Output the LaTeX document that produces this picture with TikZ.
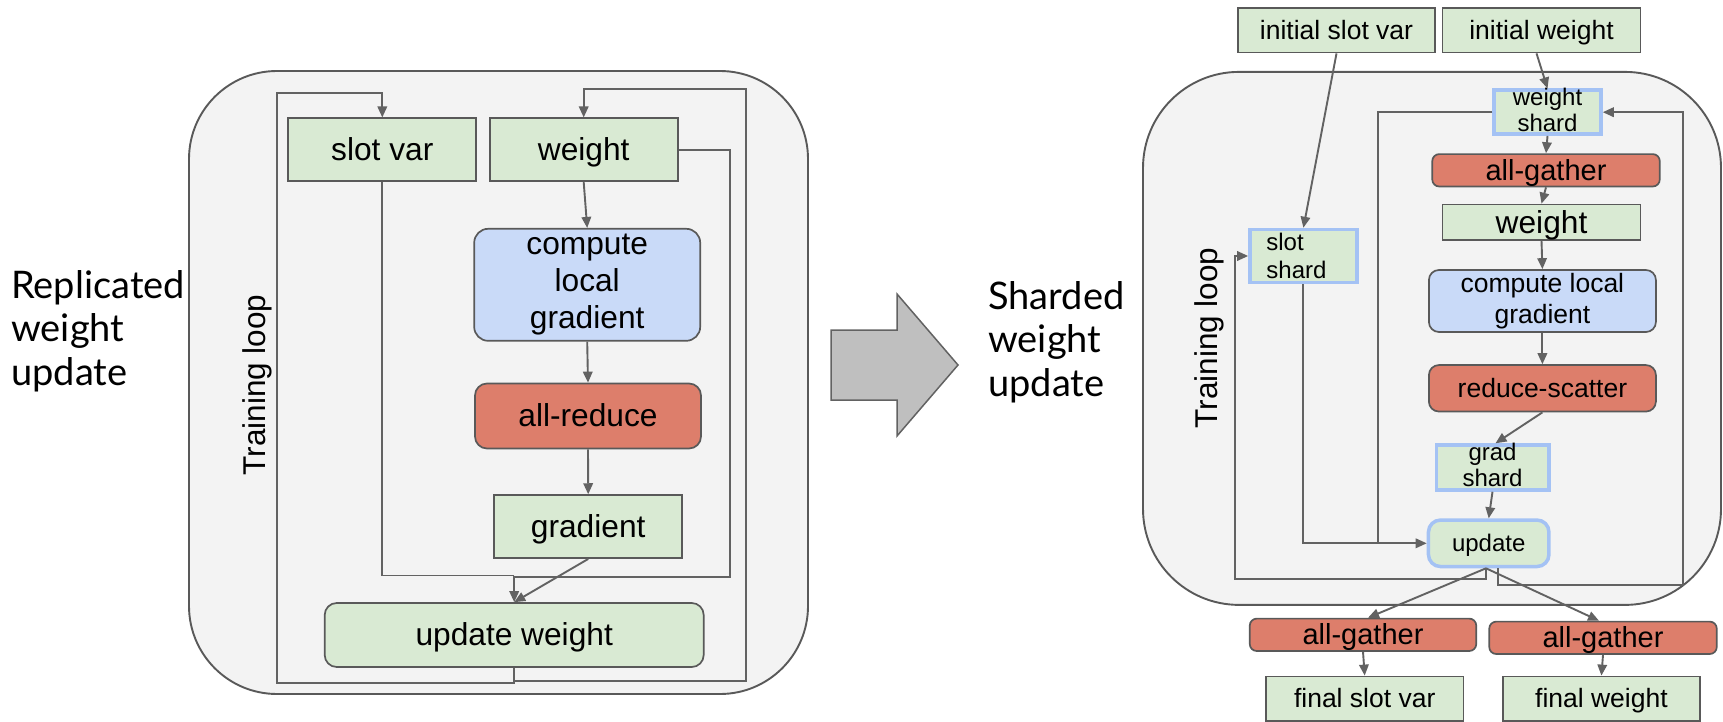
\documentclass[tikz,border=0pt]{standalone}
\usepackage{fontspec}
\setmainfont{Liberation Sans}
\newfontfamily\latofont{Lato}
\usetikzlibrary{arrows.meta}

\definecolor{gfill}{HTML}{D9EAD3}
\definecolor{bfill}{HTML}{C9DAF8}
\definecolor{rfill}{HTML}{DD7E6B}
\definecolor{shardedge}{HTML}{A4C2F4}
\definecolor{panelfill}{HTML}{F3F3F3}
\definecolor{edge}{HTML}{595959}
\definecolor{wire}{HTML}{626262}
\definecolor{arrowfill}{HTML}{BFBFBF}

\newcommand{\txtsize}[2]{\fontsize{#1}{#2}\selectfont}
% strut with the ascent and descent of an Arial line
\newcommand{\linestrut}{\rule[-0.212em]{0pt}{1.117em}}

\tikzset{
  panel/.style={draw=edge, line width=1.9pt, fill=panelfill},
  box/.style={draw=edge, line width=1.7pt, inner sep=0pt, align=center, text=black,
    execute at begin node=\linestrut, execute at end node=\linestrut},
  gbox/.style={box, fill=gfill},
  bbox/.style={box, fill=bfill},
  rbox/.style={box, fill=rfill},
  % shard boxes: two-line labels may spill over the frame
  sbox/.style={box, fill=gfill, draw=shardedge, line width=3.5pt, inner ysep=#1},
  sbox/.default=0pt,
  conn/.style={draw=wire, line width=1.9pt},
  arr/.style={conn, -{Triangle[length=11pt,width=9.5pt]}},
  title/.style={font=\latofont\txtsize{38}{43.5}, align=left, inner sep=0pt},
  looplabel/.style={font=\txtsize{31.5}{36}, rotate=90, inner sep=0pt},
  big/.style={font=\txtsize{31.7}{37}},
  mid/.style={font=\txtsize{26.5}{30.5}},
  gath/.style={font=\txtsize{29}{33}},
  small/.style={font=\txtsize{24}{26.5}},
}

\begin{document}
\begin{tikzpicture}[x=1pt,y=-1pt]
\useasboundingbox (0,0) rectangle (1723,722);

% ---------- replicated weight update ----------
\node[panel, rounded corners=88pt, minimum width=619pt, minimum height=623pt] (lpanel) at (498.5,382.5) {};

\node[title, anchor=north west] (t1) at (11,270) {Replicated\\weight\\update};
\node[looplabel] (tl1) at (257,385) {Training loop};

\node[gbox, big, minimum width=188pt, minimum height=63pt] (sv) at (382.3,149.8) {slot var};
\node[gbox, big, minimum width=188pt, minimum height=63pt] (w) at (583.7,149.8) {weight};
\node[bbox, big, rounded corners=14pt, minimum width=226pt, minimum height=112pt] (clg) at (587.2,284.8) {compute\\local\\gradient};
\node[rbox, big, rounded corners=12pt, minimum width=226pt, minimum height=65pt] (ar) at (588,416) {all-reduce};
\node[gbox, big, minimum width=188pt, minimum height=63pt] (g) at (588.2,526.6) {gradient};
\node[gbox, big, rounded corners=12pt, minimum width=379pt, minimum height=64pt] (uw) at (514.2,635) {update weight};

\coordinate (jl) at (514.2,575.5);
\coordinate (wr) at (730,577);
\coordinate (la) at (277,683.3);
\coordinate (lb) at (277,93);
\coordinate (ra) at (745.6,681);
\coordinate (rb) at (745.6,88.7);

\draw[arr] (w.south) -- (clg.north);
\draw[arr] (clg.south) -- (ar.north);
\draw[arr] (ar.south) -- (g.north);
\draw[arr] (g.south) -- (uw.north);
\draw[conn] (sv.south) |- (jl);
\draw[conn] (w.east) -| (wr) -- (jl |- wr);
\draw[arr] (jl) -- (uw.north);
\draw[arr] (uw.south) |- (la) -- (lb) -| (sv.north);
\draw[arr] (uw.south) |- (ra) -- (rb) -| (w.north);

% ---------- block arrow ----------
\draw[draw=wire, line width=1.5pt, fill=arrowfill, line join=miter]
  (831,330) -- (897,330) -- (897,294) -- (958,365) -- (897,436) -- (897,400) -- (831,400) -- cycle;

% ---------- sharded weight update ----------
\node[title, anchor=north west] (t2) at (988,281) {Sharded\\weight\\update};

\node[panel, rounded corners=96pt, minimum width=578pt, minimum height=533pt] (rpanel) at (1432,338.4) {};
\node[looplabel] (tl2) at (1209,338) {Training loop};

\node[gbox, mid, minimum width=197.5pt, minimum height=44.5pt] (isv) at (1336.5,30.3) {initial slot var};
\node[gbox, mid, minimum width=198pt, minimum height=44.5pt] (iw) at (1541.5,30.3) {initial weight};
\node[sbox=-5pt, small, minimum width=107pt, minimum height=44pt] (wsh) at (1547.5,112.2) {weight\\shard};
\node[rbox, gath, rounded corners=7pt, minimum width=227.5pt, minimum height=28pt] (ag1) at (1546,170.3) {all-gather};
\node[gbox, big, minimum width=198pt, minimum height=34pt] (w2) at (1541.5,222.2) {weight};
\node[bbox, mid, rounded corners=10pt, minimum width=227pt, minimum height=62pt] (clg2) at (1542.4,301) {compute local\\gradient};
\node[sbox=-1pt, small, align=left, text width=74pt, minimum width=107pt, minimum height=53pt] (ssh) at (1303.4,256) {slot\\shard};
\node[rbox, mid, rounded corners=10pt, minimum width=227pt, minimum height=46.5pt] (rs) at (1542.4,388.3) {reduce-scatter};
\node[sbox=-5pt, small, minimum width=112.5pt, minimum height=45pt] (gsh) at (1492.5,467.5) {grad\\shard};
\node[sbox, small, rounded corners=12pt, minimum width=120.5pt, minimum height=46.5pt] (upd) at (1488.7,543.3) {update};
\node[rbox, gath, rounded corners=7pt, minimum width=226.5pt, minimum height=30pt] (agL) at (1363,634.8) {all-gather};
\node[rbox, gath, rounded corners=7pt, minimum width=227.5pt, minimum height=27.5pt] (agR) at (1603,637.8) {all-gather};
\node[gbox, mid, minimum width=197.5pt, minimum height=44.5pt] (fsv) at (1364.7,698.7) {final slot var};
\node[gbox, mid, minimum width=197.5pt, minimum height=44.5pt] (fw) at (1601.4,698.7) {final weight};

\coordinate (wl) at (1377.7,0);
\coordinate (rl) at (1235,579);
\coordinate (rr) at (1683,585);

\draw[arr] (isv.south) -- (ssh.north);
\draw[arr] ([xshift=-5pt]iw.south) -- (wsh.north);
\draw[arr] (wsh.south) -- (ag1.north);
\draw[arr] (ag1.south) -- (w2.north);
\draw[arr] (w2.south) -- (clg2.north);
\draw[arr] (clg2.south) -- (rs.north);
\draw[arr] (rs.south) -- ([xshift=3pt]gsh.north);
\draw[arr] (gsh.south) -- (upd.north);
\draw[arr] (ssh.south) |- (upd.west);
\draw[conn] (wsh.west) -| (wl |- upd.west);
\draw[arr] ([xshift=-2.7pt]upd.south) |- (rl) |- (ssh.west);
\draw[arr] ([xshift=9pt]upd.south) |- (rr) |- (wsh.east);
\draw[arr] ([xshift=-2.7pt]upd.south) -- ([xshift=5pt]agL.north);
\draw[arr] ([xshift=-2.7pt]upd.south) -- ([xshift=-4pt]agR.north);
\draw[arr] (agL.south) -- (fsv.north);
\draw[arr] (agR.south) -- (fw.north);
\end{tikzpicture}
\end{document}
